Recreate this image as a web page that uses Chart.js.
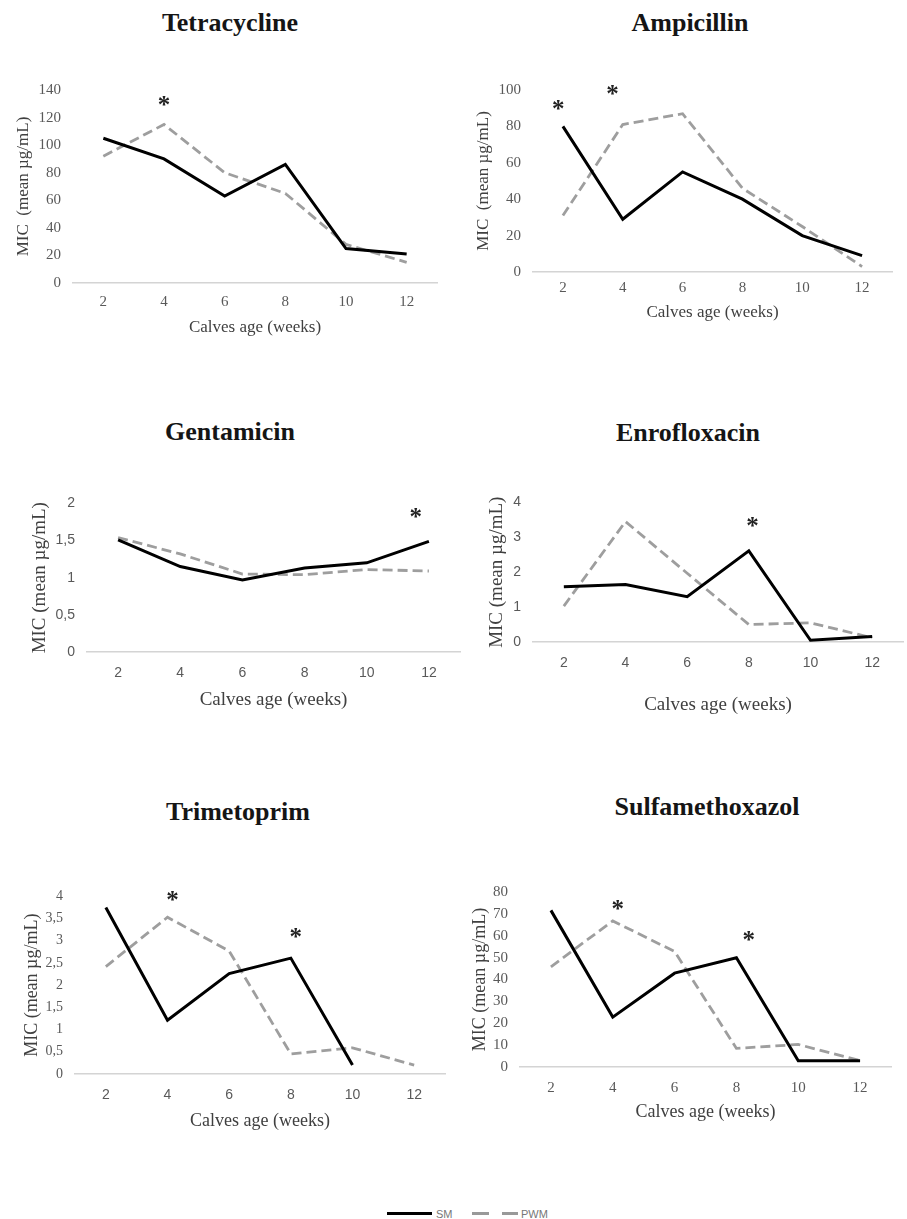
<!DOCTYPE html>
<html>
<head>
<meta charset="utf-8">
<script src="https://cdn.jsdelivr.net/npm/chart.js@4/dist/chart.umd.min.js"></script>
<style>
  body { margin: 0; background: #fff; width: 907px; height: 1219px; position: relative; overflow: hidden; }
  .ttl { position: absolute; width: 300px; text-align: center; font: bold 26px "Liberation Serif", serif; color: #151515; line-height: 30px; }
  canvas { position: absolute; }
  .leg { position: absolute; font: 11px "Liberation Sans", sans-serif; color: #777; line-height: 12px; }
  .sw { position: absolute; height: 3px; }
</style>
</head>
<body>
<div class="sw" style="left:387px;top:1212px;width:45px;background:#000"></div>
<div class="leg" style="left:436px;top:1208px">SM</div>
<div class="sw" style="left:472px;top:1212px;width:17px;background:#999"></div>
<div class="sw" style="left:502px;top:1212px;width:16px;background:#999"></div>
<div class="leg" style="left:521px;top:1208px">PWM</div>

<script>
// ========================== DATA ==============================
const weeks = ['2', '4', '6', '8', '10', '12'];
const seriesNames = ['SM', 'PWM'];

const tetSM  = [105, 90, 63, 86, 25, 21];
const tetPWM = [92, 115, 80, 65, 28, 15];
const tetStars = [[1, 132]];

const ampSM  = [80, 29, 55, 40, 20, 9];
const ampPWM = [31, 81, 87, 46, 25, 3];
const ampStars = [[-0.08, 92], [0.83, 100]];

const genSM  = [1.51, 1.15, 0.97, 1.13, 1.2, 1.49];
const genPWM = [1.54, 1.32, 1.05, 1.04, 1.11, 1.09];
const genStars = [[4.79, 1.87]];

const enrSM  = [1.58, 1.65, 1.3, 2.61, 0.05, 0.16];
const enrPWM = [1.03, 3.45, 1.97, 0.5, 0.55, 0.12];
const enrStars = [[3.06, 3.45]];

const triSM  = [3.75, 1.21, 2.26, 2.61, 0.2, null];
const triPWM = [2.42, 3.53, 2.77, 0.45, 0.59, 0.2];
const triStars = [[1.08, 4.0], [3.08, 3.17]];

const sulSM  = [71.6, 22.8, 42.9, 49.9, 2.9, 2.9];
const sulPWM = [45.8, 66.8, 52.8, 8.5, 10.3, 2.9];
const sulStars = [[1.08, 74], [3.2, 60]];

const yMaxes = [140, 100, 2, 4, 4, 80];
const ySteps = [20, 20, 0.5, 1, 0.5, 10];

// ========================== LAYOUT ============================
const SERIF = '"Liberation Serif", serif';
const SANS = '"Liberation Sans", sans-serif';

const panels = [
  { name: 'Tetracycline', sm: tetSM, pwm: tetPWM, stars: tetStars, yTitle: 'MIC  (mean µg/mL)',
    left: 73, right: 437, top: 83, bottom: 283, yTitleX: 23, xTickY: 302, xTitleY: 328,
    titleX: 230, titleY: 23, tickFam: SERIF, xTickFam: SERIF, tickSize: 15, axisSize: 17 },
  { name: 'Ampicillin', sm: ampSM, pwm: ampPWM, stars: ampStars, yTitle: 'MIC  (mean µg/mL)',
    left: 533, right: 892, top: 83, bottom: 272, yTitleX: 483, xTickY: 288, xTitleY: 313,
    titleX: 690, titleY: 23, tickFam: SERIF, xTickFam: SERIF, tickSize: 15, axisSize: 17 },
  { name: 'Gentamicin', sm: genSM, pwm: genPWM, stars: genStars, yTitle: 'MIC (mean µg/mL)',
    left: 87, right: 460, top: 497, bottom: 652, yTitleX: 40, xTickY: 673, xTitleY: 700,
    titleX: 230, titleY: 432, tickFam: SANS, xTickFam: SANS, tickSize: 14, axisSize: 19 },
  { name: 'Enrofloxacin', sm: enrSM, pwm: enrPWM, stars: enrStars, yTitle: 'MIC (mean µg/mL)',
    left: 533, right: 903, top: 496, bottom: 642, yTitleX: 497, xTickY: 663, xTitleY: 705,
    titleX: 688, titleY: 433, tickFam: SANS, xTickFam: SANS, tickSize: 14, axisSize: 19 },
  { name: 'Trimetoprim', sm: triSM, pwm: triPWM, stars: triStars, yTitle: 'MIC (mean µg/mL)',
    left: 75, right: 445, top: 890, bottom: 1074, yTitleX: 32, xTickY: 1095, xTitleY: 1121,
    titleX: 238, titleY: 812, tickFam: SERIF, xTickFam: SANS, tickSize: 14, axisSize: 18 },
  { name: 'Sulfamethoxazol', sm: sulSM, pwm: sulPWM, stars: sulStars, yTitle: 'MIC (mean µg/mL)',
    left: 520, right: 891, top: 885, bottom: 1067, yTitleX: 480, xTickY: 1088, xTitleY: 1112,
    titleX: 707, titleY: 807, tickFam: SERIF, xTickFam: SERIF, tickSize: 15, axisSize: 18 }
];

// ========================== ASTERISKS =========================
function starPlugin(points) {
  return {
    id: 'stars',
    afterDatasetsDraw(chart) {
      const { ctx, scales: { x, y } } = chart;
      ctx.save();
      ctx.font = 'bold 25px ' + SERIF;
      ctx.fillStyle = '#222';
      ctx.textAlign = 'center';
      ctx.textBaseline = 'alphabetic';
      const m = ctx.measureText('*');
      const shift = (m.actualBoundingBoxAscent - m.actualBoundingBoxDescent) / 2;
      points.forEach(([i, v]) => {
        ctx.fillText('*', x.getPixelForValue(i), y.getPixelForValue(v) + shift);
      });
      ctx.restore();
    }
  };
}

// ========================== CHARTS ============================
function makePanel(p, idx) {
  const ttl = document.createElement('div');
  ttl.className = 'ttl';
  ttl.textContent = p.name;
  ttl.style.left = (p.titleX - 150) + 'px';
  ttl.style.top = (p.titleY - 15) + 'px';
  document.body.appendChild(ttl);

  const lh = p.axisSize * 1.2;
  const padTop = 14, padRight = 12;
  const cLeft = Math.round(p.yTitleX - lh / 2);
  const cTop = p.top - padTop;
  const cRight = p.right + padRight;
  const cBottom = Math.round(p.xTitleY + lh / 2);
  const yW = p.left - cLeft;
  const xH = cBottom - p.bottom;

  const canvas = document.createElement('canvas');
  canvas.width = cRight - cLeft;
  canvas.height = cBottom - cTop;
  canvas.style.left = cLeft + 'px';
  canvas.style.top = cTop + 'px';
  canvas.style.width = canvas.width + 'px';
  canvas.style.height = canvas.height + 'px';
  document.body.appendChild(canvas);

  new Chart(canvas.getContext('2d'), {
    type: 'line',
    data: {
      labels: weeks,
      datasets: [
        { label: seriesNames[0], data: p.sm, borderColor: '#000', borderWidth: 3, pointRadius: 0, tension: 0, fill: false },
        { label: seriesNames[1], data: p.pwm, borderColor: '#9e9e9e', borderWidth: 2.8, borderDash: [10, 5], pointRadius: 0, tension: 0, fill: false }
      ]
    },
    options: {
      responsive: false,
      animation: false,
      layout: { padding: { top: padTop, right: padRight, left: 0, bottom: 0 } },
      plugins: { legend: { display: false }, tooltip: { enabled: false } },
      scales: {
        x: {
          offset: true,
          grid: { display: false, drawTicks: false },
          border: { display: true, color: '#d4d4d4', width: 1.5 },
          ticks: { color: '#595959', font: { family: p.xTickFam, size: p.tickSize },
                   padding: p.xTickY - p.bottom - p.tickSize * 0.6, maxRotation: 0 },
          title: { display: true, text: 'Calves age (weeks)', color: '#404040',
                   font: { family: SERIF, size: p.axisSize }, padding: 0 },
          afterFit(s) { s.height = xH; }
        },
        y: {
          min: 0, max: yMaxes[idx],
          grid: { display: false, drawTicks: false },
          border: { display: false },
          ticks: { stepSize: ySteps[idx], color: '#595959', padding: 12,
                   font: { family: p.tickFam, size: p.tickSize },
                   callback: v => String(v).replace('.', ',') },
          title: { display: true, text: p.yTitle, color: '#404040',
                   font: { family: SERIF, size: p.axisSize }, padding: 0 },
          afterFit(s) { s.width = yW; }
        }
      }
    },
    plugins: [starPlugin(p.stars)]
  });
}

panels.forEach(makePanel);
</script>
</body>
</html>
